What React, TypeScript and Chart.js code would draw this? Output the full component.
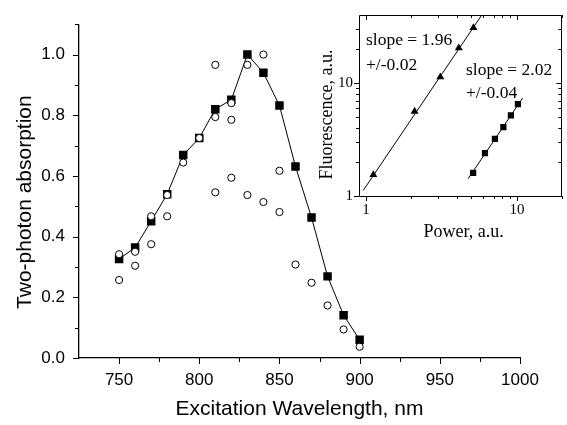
import React, { useEffect, useRef } from 'react';
import { Chart, registerables } from 'chart.js';
Chart.register(...registerables);

// ---- main chart data ----
const wavelengths = [750, 760, 770, 780, 790, 800, 810, 820, 830, 840, 850, 860, 870, 880, 890, 900];
const absorption = [0.326, 0.364, 0.451, 0.54, 0.669, 0.725, 0.82, 0.851, 1.0, 0.94, 0.832, 0.631, 0.463, 0.269, 0.141, 0.06];
const circleWl = [750, 750, 760, 760, 770, 770, 780, 780, 790, 800, 810, 810, 810, 820, 820, 820, 830, 830, 840, 840, 850, 850, 860, 870, 880, 890, 900];
const circleAbs = [0.342, 0.257, 0.35, 0.304, 0.467, 0.375, 0.537, 0.467, 0.644, 0.725, 0.966, 0.794, 0.546, 0.84, 0.785, 0.594, 0.966, 0.537, 1.0, 0.514, 0.617, 0.481, 0.308, 0.248, 0.173, 0.094, 0.037];
const xMajor = [750, 800, 850, 900, 950, 1000];
const xMinor = [775, 825, 875, 925, 975];
const yMajor = [0, 0.2, 0.4, 0.6, 0.8, 1.0];
const yMinor = [0.1, 0.3, 0.5, 0.7, 0.9, 1.1];
const xTitle = 'Excitation Wavelength, nm';
const yTitle = 'Two-photon absorption';

// ---- inset data ----
const triPower = [1.12, 2.1, 3.11, 4.12, 5.15];
const triFluor = [1.54, 5.6, 11.3, 20.4, 30.8];
const sqPower = [5.13, 6.14, 7.15, 8.13, 9.12, 10.15];
const sqFluor = [1.6, 2.4, 3.2, 4.07, 5.18, 6.49];
const fit1Power = [0.96, 5.96];
const fit1Fluor = [1.12, 41.5];
const fit2Power = [4.75, 10.9];
const fit2Fluor = [1.42, 7.36];
const insetXMajor = [1, 10];
const insetXMinor = [2, 3, 4, 5, 6, 7, 8, 9, 20];
const insetYMajor = [1, 10];
const insetYMinor = [2, 3, 4, 5, 6, 7, 8, 9, 20, 30];
const insetXTitle = 'Power, a.u.';
const insetYTitle = 'Fluorescence, a.u.';
const note1 = ['slope = 1.96', '+/-0.02'];
const note2 = ['slope = 2.02', '+/-0.04'];

const SANS = '"Liberation Sans", Arial, sans-serif';
const SERIF = '"Liberation Serif", "Times New Roman", serif';

const pts = (xs: number[], ys: number[]) => xs.map((x, i) => ({ x, y: ys[i] }));

const mainTicks = {
  id: 'mainTicks',
  afterDraw(chart: any) {
    const { ctx, chartArea, scales } = chart;
    const { left, top, right, bottom } = chartArea;
    const x = scales.x, y = scales.y;
    ctx.save();
    ctx.strokeStyle = '#000';
    ctx.lineWidth = 1;
    ctx.beginPath();
    xMajor.forEach(v => { const p = Math.round(x.getPixelForValue(v)) + 0.5; ctx.moveTo(p, bottom); ctx.lineTo(p, bottom + 6); });
    xMinor.forEach(v => { const p = Math.round(x.getPixelForValue(v)) + 0.5; ctx.moveTo(p, bottom); ctx.lineTo(p, bottom + 4); });
    yMajor.forEach(v => { const p = Math.round(y.getPixelForValue(v)) + 0.5; ctx.moveTo(left, p); ctx.lineTo(left - 6, p); });
    yMinor.forEach(v => { const p = Math.round(y.getPixelForValue(v)) + 0.5; ctx.moveTo(left, p); ctx.lineTo(left - 4, p); });
    ctx.stroke();
    ctx.fillStyle = '#000';
    ctx.font = `21px ${SANS}`;
    ctx.textAlign = 'center';
    ctx.textBaseline = 'alphabetic';
    ctx.fillText(xTitle, (left + right) / 2, bottom + 57);
    ctx.translate(31, (top + bottom) / 2 + 11);
    ctx.rotate(-Math.PI / 2);
    ctx.fillText(yTitle, 0, 0);
    ctx.restore();
  },
};

const insetDeco = {
  id: 'insetDeco',
  afterDraw(chart: any) {
    const { ctx, chartArea, scales } = chart;
    const { left, top, right, bottom } = chartArea;
    const x = scales.x, y = scales.y;
    ctx.save();
    ctx.strokeStyle = '#000';
    ctx.lineWidth = 1;
    ctx.beginPath();
    ctx.rect(Math.round(left) + 0.5, Math.round(top) + 0.5, Math.round(right - left) - 1, Math.round(bottom - top));
    const xt = (vals: number[], len: number) => vals.forEach(v => {
      const p = Math.round(x.getPixelForValue(v)) + 0.5;
      ctx.moveTo(p, bottom); ctx.lineTo(p, bottom + len);
      ctx.moveTo(p, top); ctx.lineTo(p, top + len);
    });
    const yt = (vals: number[], len: number) => vals.forEach(v => {
      const p = Math.round(y.getPixelForValue(v)) + 0.5;
      ctx.moveTo(left, p); ctx.lineTo(left - len, p);
      ctx.moveTo(right - 1, p); ctx.lineTo(right - 1 - len, p);
    });
    xt(insetXMajor, 5); xt(insetXMinor, 3);
    yt(insetYMajor, 5); yt(insetYMinor, 3);
    ctx.stroke();
    ctx.fillStyle = '#000';
    ctx.font = `17.5px ${SERIF}`;
    ctx.textAlign = 'left';
    ctx.textBaseline = 'alphabetic';
    ctx.fillText(note1[0], left + 7, top + 30);
    ctx.fillText(note1[1], left + 7, top + 55);
    ctx.fillText(note2[0], left + 107, top + 60);
    ctx.fillText(note2[1], left + 107, top + 83);
    ctx.font = `18px ${SERIF}`;
    ctx.textAlign = 'center';
    ctx.fillText(insetXTitle, (left + right) / 2 + 3, bottom + 41);
    ctx.translate(left - 27, (top + bottom) / 2 + 9);
    ctx.rotate(-Math.PI / 2);
    ctx.fillText(insetYTitle, 0, 0);
    ctx.restore();
  },
};

export default function App() {
  const mainRef = useRef<HTMLCanvasElement>(null);
  const insetRef = useRef<HTMLCanvasElement>(null);

  useEffect(() => {
    const main = new Chart(mainRef.current!, {
      type: 'scatter',
      data: {
        datasets: [
          {
            data: pts(circleWl, circleAbs),
            pointStyle: 'circle',
            pointRadius: 3.6,
            borderColor: '#000',
            backgroundColor: '#fff',
            borderWidth: 1,
            showLine: false,
          },
          {
            data: pts(wavelengths, absorption),
            showLine: true,
            pointStyle: 'rect',
            pointRadius: 6,
            borderColor: '#000',
            backgroundColor: '#000',
            pointBackgroundColor: '#000',
            borderWidth: 1,
            pointBorderWidth: 0,
          },
        ],
      },
      options: {
        responsive: false,
        animation: false,
        events: [],
        layout: { padding: { top: 20, right: 47, left: 0, bottom: 0 } },
        plugins: { legend: { display: false }, tooltip: { enabled: false } },
        scales: {
          x: {
            type: 'linear',
            min: 725,
            max: 1000,
            grid: { display: false, drawTicks: false },
            border: { display: true, color: '#000', width: 1.3 },
            afterBuildTicks: (s: any) => { s.ticks = xMajor.map(v => ({ value: v })); },
            afterFit: (s: any) => { s.height = 67; },
            ticks: { color: '#000', padding: 12, font: { family: SANS, size: 17 }, maxRotation: 0, callback: (v: any) => String(v) },
          },
          y: {
            type: 'linear',
            min: 0,
            max: 1.1,
            grid: { display: false, drawTicks: false },
            border: { display: true, color: '#000', width: 1.3 },
            afterBuildTicks: (s: any) => { s.ticks = yMajor.map(v => ({ value: v })); },
            afterFit: (s: any) => { s.width = 79; },
            ticks: { color: '#000', padding: 14, font: { family: SANS, size: 17 }, callback: (v: any) => Number(v).toFixed(1) },
          },
        },
      },
      plugins: [mainTicks],
    } as any);

    const inset = new Chart(insetRef.current!, {
      type: 'scatter',
      data: {
        datasets: [
          { data: pts(fit1Power, fit1Fluor), showLine: true, pointRadius: 0, borderColor: '#000', borderWidth: 1 },
          { data: pts(fit2Power, fit2Fluor), showLine: true, pointRadius: 0, borderColor: '#000', borderWidth: 1 },
          { data: pts(triPower, triFluor), pointStyle: 'triangle', pointRadius: 4.6, backgroundColor: '#000', borderColor: '#000', borderWidth: 0 },
          { data: pts(sqPower, sqFluor), pointStyle: 'rect', pointRadius: 4.4, backgroundColor: '#000', borderColor: '#000', borderWidth: 0 },
        ],
      },
      options: {
        responsive: false,
        animation: false,
        events: [],
        layout: { padding: { top: 11, right: 2, left: 0, bottom: 0 } },
        plugins: { legend: { display: false }, tooltip: { enabled: false } },
        scales: {
          x: {
            type: 'logarithmic',
            min: 0.9,
            max: 20,
            grid: { display: false, drawTicks: false },
            border: { display: false },
            afterBuildTicks: (s: any) => { s.ticks = insetXMajor.map(v => ({ value: v })); },
            afterFit: (s: any) => { s.height = 54; },
            ticks: { color: '#000', padding: 5, font: { family: SERIF, size: 15 }, maxRotation: 0, callback: (v: any) => String(v) },
          },
          y: {
            type: 'logarithmic',
            min: 1,
            max: 40,
            grid: { display: false, drawTicks: false },
            border: { display: false },
            afterBuildTicks: (s: any) => { s.ticks = insetYMajor.map(v => ({ value: v })); },
            afterFit: (s: any) => { s.width = 69; },
            ticks: { color: '#000', padding: 6, font: { family: SERIF, size: 15 }, callback: (v: any) => String(v) },
          },
        },
      },
      plugins: [insetDeco],
    } as any);

    return () => { main.destroy(); inset.destroy(); };
  }, []);

  return (
    <div style={{ position: 'fixed', left: 0, top: 0, width: 567, height: 425, background: '#fff' }}>
      <canvas ref={mainRef} width={567} height={425} style={{ position: 'absolute', left: 0, top: 0, width: 567, height: 425 }} />
      <canvas ref={insetRef} width={277} height={250} style={{ position: 'absolute', left: 290, top: 0, width: 277, height: 250 }} />
    </div>
  );
}
